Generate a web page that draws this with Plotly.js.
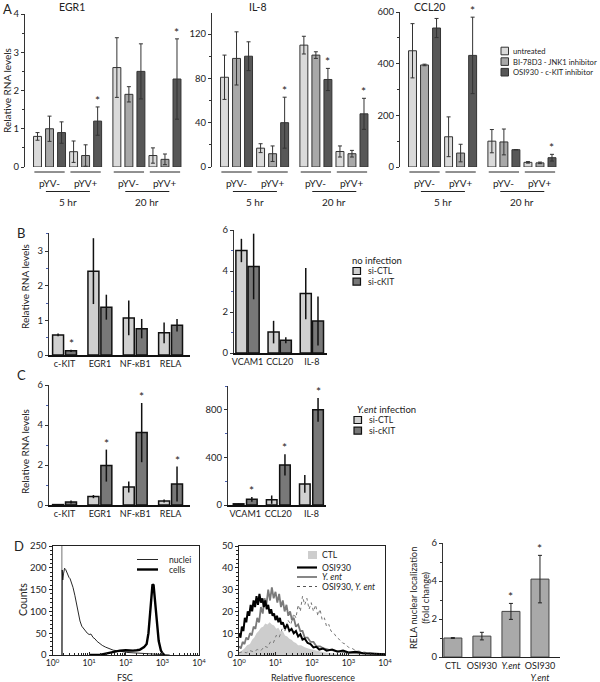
<!DOCTYPE html>
<html><head><meta charset="utf-8">
<script src="https://cdn.plot.ly/plotly-3.0.1.min.js"></script>
<style>html,body{margin:0;padding:0;background:#fff}#chart{width:600px;height:682px}</style>
</head><body><div id="chart"></div>
<script>
// ================= DATA =================
// ---- Panel A ----
const aGroupLabels = ['pYV-','pYV+','pYV-','pYV+'];
const aTimeLabels = ['5 hr','20 hr'];
const aSeriesNames = ['untreated','BI-78D3 - JNK1 inhibitor','OSI930 - c-KIT inhibitor'];
const aGeneTitles = ['EGR1','IL-8','CCL20'];

const egr1Untreated = [0.8, 0.4, 2.6, 0.3];
const egr1UntreatedErr = [0.1, 0.28, 0.78, 0.2];
const egr1BI = [1.0, 0.3, 1.9, 0.2];
const egr1BIErr = [0.33, 0.28, 0.2, 0.14];
const egr1OSI = [0.9, 1.2, 2.5, 2.3];
const egr1OSIErr = [0.28, 0.37, 0.72, 1.05];
const egr1OSISig = [false, true, false, true];

const il8Untreated = [81, 17, 110, 14];
const il8UntreatedErr = [20, 4, 8, 5];
const il8BI = [98, 12, 101, 12];
const il8BIErr = [24, 7, 3, 3];
const il8OSI = [100, 40, 79, 48];
const il8OSIErr = [13, 23, 10, 14];
const il8OSISig = [false, true, true, true];

const ccl20Untreated = [450, 117, 100, 18];
const ccl20UntreatedErr = [105, 77, 45, 3];
const ccl20BI = [395, 54, 97, 16];
const ccl20BIErr = [3, 34, 50, 3];
const ccl20OSI = [538, 432, 67, 36];
const ccl20OSIErr = [37, 148, 0, 13];
const ccl20OSISig = [false, true, false, true];

// ---- Panel B (no infection) ----
const siNames = ['si-CTL','si-cKIT'];
const bCats1 = ['c-KIT','EGR1','NF-\u03baB1','RELA'];
const bCtl1 = [0.58, 2.42, 1.07, 0.64];
const bCtl1Err = [0.04, 0.95, 0.5, 0.3];
const bKit1 = [0.12, 1.38, 0.76, 0.86];
const bKit1Err = [0.03, 0.36, 0.28, 0.18];
const bKit1Sig = [true, false, false, false];
const bCats2 = ['VCAM1','CCL20','IL-8'];
const bCtl2 = [5.0, 1.02, 2.9];
const bCtl2Err = [0.57, 0.55, 1.25];
const bKit2 = [4.22, 0.62, 1.56];
const bKit2Err = [1.6, 0.15, 1.2];
const bKit2Sig = [false, false, false];

// ---- Panel C (Y.ent infection) ----
const cCats1 = ['c-KIT','EGR1','NF-\u03baB1','RELA'];
const cCtl1 = [0.02, 0.42, 0.9, 0.2];
const cCtl1Err = [0.02, 0.08, 0.27, 0.08];
const cKit1 = [0.15, 1.97, 3.62, 1.05];
const cKit1Err = [0.08, 0.8, 1.48, 0.87];
const cKit1Sig = [false, true, true, true];
const cCats2 = ['VCAM1','CCL20','IL-8'];
const cCtl2 = [10, 45, 177];
const cCtl2Err = [3, 35, 75];
const cKit2 = [48, 337, 800];
const cKit2Err = [20, 90, 100];
const cKit2Sig = [true, true, true];

// ---- Panel D1 (FSC histogram) ----
const gateFsc = 1.8;
const nucleiLogFsc = [0.26,0.265,0.28,0.30,0.33,0.36,0.40,0.45,0.48,0.52,0.56,0.61,0.65,0.70,0.75,0.80,0.85,0.90,0.95,1.00,1.05,1.11,1.16,1.22,1.29,1.36,1.45,1.57,1.66,1.75,1.88,2.02,2.20,2.47,2.65,2.84,3.00,3.20];
const nucleiCounts = [0,195,172,186,199,196,186,178,175,166,155,137,118,92,78,66,60,55,50,47,48,40,37,31,26,22,18,13.5,11,10,8,6,5,4,3,1,0.5,0];
const cellsLogFsc = [1.0,1.29,1.45,1.57,1.70,1.84,2.0,2.1,2.2,2.3,2.38,2.5,2.57,2.62,2.66,2.70,2.73,2.76,2.79,2.82,2.85,2.90,2.96,3.02,3.06];
const cellsCounts = [0,0,3,5,8,10,11,10,10,11,12,18,25,50,95,150,162,160,135,100,70,32,10,2,0];

// ---- Panel D2 (fluorescence histograms) ----
const flNames = ['CTL','OSI930','<i>Y. ent</i>','OSI930, <i>Y. ent</i>'];
const ctlLogFl = [0.00,0.08,0.15,0.22,0.30,0.36,0.42,0.48,0.54,0.60,0.66,0.72,0.78,0.84,0.90,0.96,1.02,1.08,1.14,1.20,1.26,1.32,1.38,1.44,1.50,1.56,1.62,1.70,1.80,1.90,2.00,2.10,2.25,2.40,2.60,2.80,3.00,3.50,4.00];
const ctlCounts = [1,2,3,4.5,5,7,8,10,11,12.5,13,14.5,14,15,14,13.5,12,12.5,10.5,11,9,8.5,7.5,7,6,5.5,4.5,4.5,3.5,3,2.5,2,1.5,1,0.5,0.3,0.2,0.1,0];
const osiLogFl = [0.00,0.04,0.08,0.12,0.16,0.20,0.24,0.28,0.32,0.36,0.40,0.44,0.48,0.52,0.56,0.60,0.64,0.68,0.72,0.76,0.80,0.84,0.88,0.92,0.96,1.00,1.04,1.08,1.12,1.16,1.20,1.26,1.32,1.38,1.44,1.50,1.56,1.62,1.68,1.74,1.80,1.88,1.96,2.04,2.12,2.20,2.30,2.40,2.55,2.70,2.85,3.00,3.20,3.40,3.60,3.80,4.00];
const osiCounts = [10,8,13,11,17,15,20,18,23,20,25,22,27,23,28,24,26,22,25,21,23,19,21,18,19,16,18,15,17,14,15,12,14,11,12,10,11,8.5,9.5,7,7.5,5.5,5,3.5,3.8,2.5,3,2,2.5,1.5,2,1.2,1.5,0.8,0.7,0.4,0.3];
const yentLogFl = [0.00,0.05,0.10,0.15,0.20,0.25,0.30,0.35,0.40,0.45,0.50,0.55,0.60,0.65,0.70,0.75,0.80,0.85,0.90,0.95,1.00,1.05,1.10,1.15,1.20,1.25,1.30,1.35,1.40,1.45,1.50,1.56,1.62,1.68,1.74,1.80,1.88,1.96,2.04,2.12,2.22,2.32,2.45,2.60,2.80,3.00,3.30,3.60,4.00];
const yentCounts = [4,3,6,5,8,7,10,9,13,12,17,15,22,19,26,23,30,25,31,26,29,24,28,22,25,20,23,18,20,16,17,13,14,11,11,8,8,6,6,4,4,3,2.5,2,1.5,1,0.8,0.5,0.3];
const osiYentLogFl = [0.00,0.10,0.20,0.30,0.40,0.50,0.60,0.70,0.78,0.86,0.94,1.02,1.10,1.18,1.26,1.34,1.42,1.50,1.56,1.62,1.68,1.74,1.80,1.86,1.92,1.98,2.04,2.10,2.16,2.22,2.28,2.34,2.40,2.46,2.52,2.60,2.68,2.76,2.84,2.92,3.00,3.10,3.20,3.35,3.50,3.70,4.00];
const osiYentCounts = [1,1.5,1,2,1.5,2.5,2,4,3.5,6,5.5,9,8,12,11,16,14,19,17,23,20,27,23,26,21,24,20,23,18,21,16,17,13,14,11,10,8,7,5.5,5,3.5,3,2,1.5,1,0.5,0.3];

// ---- Panel D3 (RELA nuclear localization) ----
const dCats = ['CTL','OSI930','<i>Y.ent</i>','OSI930<br><i>Y.ent</i>'];
const dValues = [1.0, 1.1, 2.4, 4.1];
const dErr = [0.02, 0.2, 0.42, 1.25];
const dSig = [false, false, true, true];

// ================= LAYOUT HELPERS =================
const W = 600, H = 682;
const FONT = 'Lato, "Open Sans", "DejaVu Sans", sans-serif';
const TXT = '#222';
const X = (a, b) => [a / W, b / W];
const Y = (top, bot) => [1 - bot / H, 1 - top / H];
const px = v => v / W, py = v => 1 - v / H;
const traces = [], annotations = [], shapes = [];

function txt(x, y, text, o) {
  annotations.push(Object.assign({xref:'paper', yref:'paper', x:px(x), y:py(y), text:text, showarrow:false,
    xanchor:'center', yanchor:'middle', font:{size:10, color:TXT, family:FONT}}, o || {}));
}
function star(xa, ya, x, y) {
  annotations.push({xref:xa, yref:ya, x:x, y:y, text:'*', showarrow:false, yanchor:'bottom', yshift:-3,
    font:{size:12, color:TXT, family:FONT}});
}
function yAxis(top, bot, range, tickvals, minorDtick, anchor) {
  return {domain:Y(top, bot), range:range, tickvals:tickvals, ticks:'outside', ticklen:3, tickwidth:1, tickcolor:'#333',
    showline:true, linecolor:'#333', linewidth:1, showgrid:false, zeroline:false, anchor:anchor, fixedrange:true,
    tickfont:{size:9.5, color:TXT, family:FONT},
    minor:{dtick:minorDtick, tick0:0, ticks:'outside', ticklen:2, tickcolor:'#333', showgrid:false}};
}
function hLine(xref, x0, x1, ypx, color, width, dash) {
  shapes.push({type:'line', xref:xref, yref:'paper', x0:x0, x1:x1, y0:py(ypx), y1:py(ypx),
    line:{color:color, width:width, dash:dash || 'solid'}});
}
function rectPx(x0, y0, x1, y1, fill, lineColor, lw) {
  shapes.push({type:'rect', xref:'paper', yref:'paper', x0:px(x0), x1:px(x1), y0:py(y1), y1:py(y0),
    fillcolor:fill, line:{color:lineColor, width:lw}});
}

const layout = {
  width:W, height:H, margin:{l:0, r:0, t:0, b:0}, paper_bgcolor:'#fff', plot_bgcolor:'rgba(0,0,0,0)',
  showlegend:false, barmode:'overlay', font:{family:FONT, color:TXT, size:10},
  annotations:annotations, shapes:shapes
};

// ================= PANEL A =================
const aPos = [0, 1, 2.2, 3.2];
const aSlot = 1 / 3, aBarW = 0.22;
const aColors = ['#dadada', '#a8a8a8', '#575757'];
const aPanels = [
  {xa:'x', ya:'y', dom:[25,183], top:14, range:[0,4], tv:[0,1,2,3,4], minor:0.5,
   series:[[egr1Untreated,egr1UntreatedErr],[egr1BI,egr1BIErr],[egr1OSI,egr1OSIErr]], sig:egr1OSISig, tx:72},
  {xa:'x2', ya:'y2', dom:[212,370], top:13, range:[0,139], tv:[0,40,80,120], minor:20,
   series:[[il8Untreated,il8UntreatedErr],[il8BI,il8BIErr],[il8OSI,il8OSIErr]], sig:il8OSISig, tx:258},
  {xa:'x3', ya:'y3', dom:[400,558], top:12, range:[0,600], tv:[0,200,400,600], minor:100,
   series:[[ccl20Untreated,ccl20UntreatedErr],[ccl20BI,ccl20BIErr],[ccl20OSI,ccl20OSIErr]], sig:ccl20OSISig, tx:429}
];
aPanels.forEach((p, pi) => {
  const xk = 'xaxis' + (pi ? pi + 1 : ''), yk = 'yaxis' + (pi ? pi + 1 : '');
  layout[xk] = {domain:X(p.dom[0], p.dom[1]), range:[-0.68, 3.7], visible:false, anchor:p.ya, fixedrange:true};
  layout[yk] = yAxis(p.top, 167, p.range, p.tv, p.minor, p.xa);
  p.series.forEach((s, i) => {
    const off = -0.5 + i * aSlot + (aSlot - aBarW) / 2;
    traces.push({type:'bar', name:aSeriesNames[i], x:aPos, y:s[0], xaxis:p.xa, yaxis:p.ya, width:aBarW, offset:off,
      marker:{color:aColors[i], line:{color:'#333', width:1}},
      error_y:{type:'data', array:s[1], visible:true, color:'#333', thickness:1, width:2}, hoverinfo:'skip'});
    if (i === 2) p.sig.forEach((sg, k) => { if (sg) star(p.xa, p.ya, aPos[k] + off + aBarW / 2, s[0][k] + s[1][k]); });
  });
  txt(p.tx, 7, aGeneTitles[pi], {font:{size:10.5, color:TXT, family:FONT}});
  aPos.forEach((g, k) => {
    hLine(p.xa, g - 0.42, g + 0.42, 172, '#222', 1);
    annotations.push({xref:p.xa, yref:'paper', x:g, y:py(182.5), text:aGroupLabels[k], showarrow:false,
      xanchor:'center', yanchor:'middle', font:{size:10, color:TXT, family:FONT}});
  });
  [[0,1],[2,3]].forEach((pair, t) => {
    const a = aPos[pair[0]] - 0.1, b = aPos[pair[1]] + 0.12;
    hLine(p.xa, a, b, 191.5, '#222', 1);
    annotations.push({xref:p.xa, yref:'paper', x:(a + b) / 2, y:py(202), text:aTimeLabels[t], showarrow:false,
      xanchor:'center', yanchor:'middle', font:{size:10, color:TXT, family:FONT}});
  });
});
txt(7, 9, 'A', {font:{size:13, color:TXT, family:FONT}});
txt(7, 91, 'Relative RNA levels', {textangle:-90});
// Legend A
aSeriesNames.forEach((n, i) => {
  const yc = 51 + i * 10.6;
  rectPx(501, yc - 3.8, 508.5, yc + 3.8, aColors[i], '#333', 1);
  txt(511, yc, n, {xanchor:'left', font:{size:7.6, color:TXT, family:FONT}});
});

// ================= PANELS B & C =================
const siColors = ['#d0d0d0', '#787878'];
function pairPanel(idx, xdom, xrange, ytop, ybot, yrange, tv, minor, cats, ctl, ctlErr, kit, kitErr, sig, w, d) {
  const xa = 'x' + idx, ya = 'y' + idx;
  layout['xaxis' + idx] = {domain:X(xdom[0], xdom[1]), range:xrange, type:'category', anchor:ya, showline:true,
    linecolor:'#111', linewidth:1.5, ticks:'', showgrid:false, zeroline:false, fixedrange:true,
    tickfont:{size:9, color:TXT, family:FONT}};
  layout['yaxis' + idx] = yAxis(ytop, ybot, yrange, tv, minor, xa);
  layout['yaxis' + idx].minor.tickcolor = '#4a5fb0';
  [[ctl, ctlErr], [kit, kitErr]].forEach((s, i) => {
    const off = (i === 0 ? -d : d) - w / 2;
    traces.push({type:'bar', name:siNames[i], x:cats, y:s[0], xaxis:xa, yaxis:ya, width:w, offset:off,
      marker:{color:siColors[i], line:{color:'#111', width:1.5}},
      error_y:{type:'data', array:s[1], visible:true, color:'#111', thickness:1.5, width:0}, hoverinfo:'skip'});
    if (i === 1) sig.forEach((sg, k) => { if (sg) star(xa, ya, k + off + w / 2, s[0][k] + s[1][k]); });
  });
}
pairPanel(4, [49,190], [-0.44,3.55], 233, 355, [0,3.52], [0,1,2,3], 0.5, bCats1, bCtl1, bCtl1Err, bKit1, bKit1Err, bKit1Sig, 0.31, 0.183);
pairPanel(5, [234,327], [-0.42,2.47], 230, 353, [0,6], [0,2,4,6], 1, bCats2, bCtl2, bCtl2Err, bKit2, bKit2Err, bKit2Sig, 0.344, 0.19);
pairPanel(6, [49,190], [-0.44,3.55], 385, 505, [0,6], [0,2,4,6], 1, cCats1, cCtl1, cCtl1Err, cKit1, cKit1Err, cKit1Sig, 0.31, 0.183);
pairPanel(7, [228,326], [-0.52,2.44], 386, 505, [0,1000], [0,400,800], 200, cCats2, cCtl2, cCtl2Err, cKit2, cKit2Err, cKit2Sig, 0.32, 0.2);

txt(21, 233, 'B', {font:{size:13, color:TXT, family:FONT}});
txt(21, 375, 'C', {font:{size:13, color:TXT, family:FONT}});
txt(25, 287, 'Relative RNA levels', {textangle:-90});
txt(25, 452, 'Relative RNA levels', {textangle:-90});
// Legend B
txt(350, 260, 'no infection', {xanchor:'left', font:{size:9.5, color:TXT, family:FONT}});
siNames.forEach((n, i) => {
  const yc = 271 + i * 10.7;
  rectPx(353, yc - 3.5, 360.5, yc + 3.5, siColors[i], '#111', 1.2);
  txt(366, yc, n, {xanchor:'left', font:{size:8.6, color:TXT, family:FONT}});
});
// Legend C
txt(355, 409, '<i>Y.ent</i> infection', {xanchor:'left', font:{size:9.5, color:TXT, family:FONT}});
siNames.forEach((n, i) => {
  const yc = 420 + i * 10.7;
  rectPx(354, yc - 3.5, 361.5, yc + 3.5, siColors[i], '#111', 1.2);
  txt(367, yc, n, {xanchor:'left', font:{size:8.6, color:TXT, family:FONT}});
});

// ================= PANEL D =================
const pow10 = v => Math.pow(10, v);
const logTickVals = [1, 10, 100, 1000, 10000];
const logTickText = ['10<sup>0</sup>','10<sup>1</sup>','10<sup>2</sup>','10<sup>3</sup>','10<sup>4</sup>'];
function histAxes(idx, xdom, yrange, ydtick, yminor) {
  layout['xaxis' + idx] = {domain:X(xdom[0], xdom[1]), type:'log', range:[0, 4], anchor:'y' + idx,
    tickvals:logTickVals, ticktext:logTickText, ticks:'inside', ticklen:3, tickcolor:'#222',
    showline:true, linecolor:'#222', linewidth:1, mirror:true, showgrid:false, zeroline:false, fixedrange:true,
    tickfont:{size:8.6, color:TXT, family:FONT},
    minor:{dtick:'D1', ticks:'inside', ticklen:2, tickcolor:'#222', showgrid:false}};
  layout['yaxis' + idx] = {domain:Y(546, 655), range:yrange, dtick:ydtick, tick0:0, ticks:'outside', ticklen:3,
    tickcolor:'#222', showline:true, linecolor:'#222', linewidth:1, mirror:true, showgrid:false, zeroline:false,
    anchor:'x' + idx, fixedrange:true, tickfont:{size:9.5, color:TXT, family:FONT},
    minor:{dtick:yminor, tick0:0, ticks:'outside', ticklen:2, tickcolor:'#222', showgrid:false}};
}
histAxes(8, [52.5, 199], [0, 250], 50, 10);
histAxes(9, [239, 385], [0, 50], 10, 2);

// D1 traces
traces.push({type:'scatter', mode:'lines', x:[gateFsc, gateFsc], y:[0, 250], xaxis:'x8', yaxis:'y8',
  line:{color:'#8a8a8a', width:1.2}, hoverinfo:'skip'});
traces.push({type:'scatter', mode:'lines', name:'nuclei', x:nucleiLogFsc.map(pow10), y:nucleiCounts, xaxis:'x8', yaxis:'y8',
  line:{color:'#111', width:0.9}, hoverinfo:'skip'});
traces.push({type:'scatter', mode:'lines', name:'cells', x:cellsLogFsc.map(pow10), y:cellsCounts, xaxis:'x8', yaxis:'y8',
  line:{color:'#000', width:2.4}, hoverinfo:'skip'});
// D2 traces
traces.push({type:'scatter', mode:'lines', name:flNames[0], x:ctlLogFl.map(pow10), y:ctlCounts, xaxis:'x9', yaxis:'y9',
  fill:'tozeroy', fillcolor:'#cdcdcd', line:{color:'rgba(0,0,0,0)', width:0}, hoverinfo:'skip'});
traces.push({type:'scatter', mode:'lines', name:flNames[3], x:osiYentLogFl.map(pow10), y:osiYentCounts, xaxis:'x9', yaxis:'y9',
  line:{color:'#777', width:1, dash:'dot'}, hoverinfo:'skip'});
traces.push({type:'scatter', mode:'lines', name:flNames[2], x:yentLogFl.map(pow10), y:yentCounts, xaxis:'x9', yaxis:'y9',
  line:{color:'#7a7a7a', width:1.8}, hoverinfo:'skip'});
traces.push({type:'scatter', mode:'lines', name:flNames[1], x:osiLogFl.map(pow10), y:osiCounts, xaxis:'x9', yaxis:'y9',
  line:{color:'#000', width:2}, hoverinfo:'skip'});

txt(19, 546, 'D', {font:{size:13, color:TXT, family:FONT}});
txt(23, 600, 'Counts', {textangle:-90, font:{size:10.5, color:TXT, family:FONT}});
txt(125, 677, 'FSC', {font:{size:9, color:TXT, family:FONT}});
txt(313, 677, 'Relative fluorescence', {font:{size:9, color:TXT, family:FONT}});
// D1 legend
hLine('paper', px(137), px(158), 559.5, '#111', 0.9);
hLine('paper', px(137), px(158), 569.5, '#000', 2.4);
txt(167, 559.5, 'nuclei', {xanchor:'left', font:{size:8.6, color:TXT, family:FONT}});
txt(167, 569.5, 'cells', {xanchor:'left', font:{size:8.6, color:TXT, family:FONT}});
// D2 legend
rectPx(308, 551, 317, 559, '#cdcdcd', 'rgba(0,0,0,0)', 0);
hLine('paper', px(297), px(317), 567.5, '#000', 2.2);
hLine('paper', px(297), px(317), 577, '#7a7a7a', 1.8);
hLine('paper', px(297), px(317), 586.5, '#555', 1, 'dot');
[555, 567.5, 577, 586.5].forEach((yc, i) => txt(320, yc, flNames[i], {xanchor:'left', font:{size:8.6, color:TXT, family:FONT}}));

// D3 bar chart
layout.xaxis10 = {domain:X(443, 560), range:[-0.34, 3.69], type:'category', anchor:'y10', showline:true, linecolor:'#222',
  linewidth:1, ticks:'', showgrid:false, zeroline:false, fixedrange:true, tickfont:{size:9, color:TXT, family:FONT}};
layout.yaxis10 = yAxis(543, 657, [0, 6], [0, 2, 4, 6], 1, 'x10');
const dW = 0.62;
traces.push({type:'bar', x:dCats, y:dValues, xaxis:'x10', yaxis:'y10', width:dW, offset:-dW / 2,
  marker:{color:'#a9a9a9', line:{color:'#444', width:1}},
  error_y:{type:'data', array:dErr, visible:true, color:'#222', thickness:1, width:2}, hoverinfo:'skip'});
dSig.forEach((sg, k) => { if (sg) star('x10', 'y10', k, dValues[k] + dErr[k]); });
txt(419, 598, 'RELA nuclear localization<br>(fold change)', {textangle:-90, font:{size:9.3, color:TXT, family:FONT}});

Plotly.newPlot('chart', traces, layout, {staticPlot:true, displayModeBar:false});
</script>
</body></html>
